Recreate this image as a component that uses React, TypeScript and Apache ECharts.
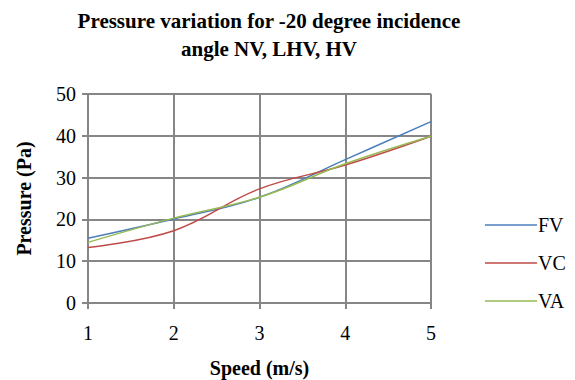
import React, { useEffect, useRef } from "react";
import * as echarts from "echarts";

const speeds = [1, 2, 3, 4, 5];
const fvValues = [15.5, 20.1, 25.3, 34.3, 43.4];
const vcValues = [13.3, 17.3, 27.3, 33.0, 39.9];
const vaValues = [14.5, 20.3, 25.3, 33.3, 39.9];
const seriesNames = ["FV", "VC", "VA"];
const seriesColors = ["#4a7ebb", "#be4b48", "#98b954"];

export default function App() {
  const ref = useRef<HTMLDivElement>(null);
  useEffect(() => {
    if (!ref.current) return;
    document.body.style.margin = "0";
    const chart = echarts.init(ref.current, undefined, { renderer: "svg" });
    const font = "'Liberation Serif', 'Times New Roman', serif";
    const values = [fvValues, vcValues, vaValues];
    chart.setOption({
      animation: false,
      textStyle: { fontFamily: font },
      title: {
        text: "Pressure variation for -20 degree incidence\nangle NV, LHV, HV",
        left: 264,
        textAlign: "center",
        top: 2,
        textStyle: { fontFamily: font, fontSize: 21, fontWeight: "bold", color: "#000", lineHeight: 28 },
      },
      grid: { left: 88, right: 144, top: 94, bottom: 77, outerBoundsMode: "none", containLabel: false },
      legend: {
        orient: "vertical",
        left: 480,
        top: 210,
        icon: "rect",
        itemWidth: 52,
        itemHeight: 1.5,
        itemGap: 18,
        itemStyle: { borderWidth: 0 },
        data: seriesNames,
        textStyle: { fontFamily: font, fontSize: 20, color: "#000", padding: [0, 0, 0, -4] },
      },
      xAxis: {
        type: "value",
        min: 1,
        max: 5,
        interval: 1,
        name: "Speed (m/s)",
        nameLocation: "middle",
        nameGap: 55,
        nameTextStyle: { fontFamily: font, fontSize: 20, fontWeight: "bold", color: "#000" },
        axisLine: { lineStyle: { color: "#868686", width: 2 } },
        axisTick: { show: true, length: 6, lineStyle: { color: "#868686", width: 2 } },
        axisLabel: { fontFamily: font, fontSize: 20, color: "#000", margin: 20 },
        splitLine: { show: true, lineStyle: { color: "#868686", width: 2 } },
      },
      yAxis: {
        type: "value",
        min: 0,
        max: 50,
        interval: 10,
        name: "Pressure (Pa)",
        nameLocation: "middle",
        nameGap: 54,
        nameTextStyle: { fontFamily: font, fontSize: 20, fontWeight: "bold", color: "#000" },
        axisLine: { show: true, lineStyle: { color: "#868686", width: 2 } },
        axisTick: { show: true, length: 6, lineStyle: { color: "#868686", width: 2 } },
        axisLabel: { fontFamily: font, fontSize: 20, color: "#000", margin: 12 },
        splitLine: { show: true, lineStyle: { color: "#868686", width: 2 } },
      },
      series: seriesNames.map((name, i) => ({
        name,
        type: "line",
        smooth: 0.4,
        showSymbol: false,
        data: speeds.map((s, j) => [s, values[i][j]]),
        lineStyle: { color: seriesColors[i], width: 1.5 },
        itemStyle: { color: seriesColors[i] },
      })),
    });
    return () => chart.dispose();
  }, []);
  return <div ref={ref} style={{ width: 575, height: 380 }} />;
}
